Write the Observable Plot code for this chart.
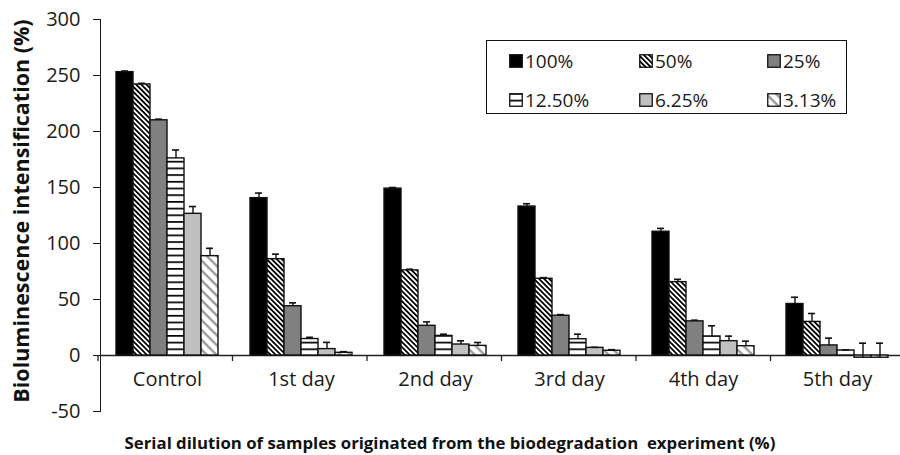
<!DOCTYPE html>
<html>
<head>
<meta charset="utf-8">
<script src="https://cdn.jsdelivr.net/npm/d3@7"></script>
<script src="https://cdn.jsdelivr.net/npm/@observablehq/plot@0.6"></script>
<style>
  body { margin: 0; background: white; }
  #wrap { position: relative; width: 900px; height: 455px; overflow: hidden; font-family: 'Open Sans', sans-serif; }
  #legend { position: absolute; left: 486px; top: 40px; width: 359px; height: 72px; border: 1.5px solid #111; background: white; }
  .item { position: absolute; display: flex; align-items: center; font-size: 19px; color: #1a1a1a; }
  .item svg { margin-right: 2px; }
</style>
</head>
<body>
<div id="wrap"><div id="legend"></div></div>
<script>
const groups = ["Control", "1st day", "2nd day", "3rd day", "4th day", "5th day"];
const dilutions = ["100%", "50%", "25%", "12.50%", "6.25%", "3.13%"];
// mean values per dilution (across groups)
const v100 = [253, 140.5, 149, 133, 110.5, 46];
const v50  = [242, 86, 76, 68.5, 65.5, 30];
const v25  = [210, 44, 26.5, 35.5, 30.5, 9];
const v12  = [176, 14.7, 17.5, 14.5, 17, 4.5];
const v6   = [126.5, 5.7, 9.8, 6.8, 12.8, -2];
const v3   = [88.7, 2.4, 8.6, 4.2, 8.3, -2];
// upper error bars
const e100 = [1, 4.5, 1, 2.5, 3, 6];
const e50  = [1, 4.5, 1, 1, 2.5, 7.5];
const e25  = [1, 3, 3.5, 1, 1, 6.5];
const e12  = [7.5, 1.5, 1.5, 4.5, 9.5, 0.5];
const e6   = [6.5, 6, 3.3, 0.5, 4.5, 13];
const e3   = [7, 1, 3, 1, 4.5, 13];
const yTicks = [-50, 0, 50, 100, 150, 200, 250, 300];

const values = [v100, v50, v25, v12, v6, v3];
const errors = [e100, e50, e25, e12, e6, e3];
const data = groups.flatMap((g, i) => dilutions.map((d, j) => ({
  group: g, dilution: d, value: values[j][i], top: values[j][i] + errors[j][i]
})));

const fills = ["#000000", "url(#p50)", "#808080", "url(#p12)", "#c0c0c0", "url(#p3)"];

const chart = Plot.plot({
  width: 900,
  height: 455,
  marginLeft: 98,
  marginRight: 0,
  marginTop: 19,
  marginBottom: 44,
  style: { fontFamily: "'Open Sans', sans-serif", fontSize: "20px", color: "#1a1a1a", background: "white", overflow: "visible" },
  facet: { data, x: "group" },
  fx: { domain: groups, range: [98, 905], padding: 0, axis: null },
  x: { domain: dilutions, axis: null, paddingInner: 0, paddingOuter: 0.77 },
  y: { domain: [-50, 300], ticks: yTicks, tickFormat: d => String(d), tickSize: 7, tickPadding: 13, line: true, label: null },
  color: { domain: dilutions, range: fills },
  marks: [
    Plot.ruleY([0], { stroke: "#222", strokeWidth: 1.5 }),
    Plot.barY(data, { x: "dilution", y: "value", fill: "dilution", stroke: "#111", strokeWidth: 1.4 }),
    Plot.ruleX(data, { x: "dilution", y1: "value", y2: "top", stroke: "#111", strokeWidth: 1.4 }),
    Plot.tickY(data, { x: "dilution", y: "top", stroke: "#111", strokeWidth: 1.6, insetLeft: 5, insetRight: 5 }),
    Plot.text(data, { filter: d => d.dilution === "100%", text: "group", frameAnchor: "bottom", dy: -26, fill: "#1a1a1a" })
  ]
});

const svg = d3.select(chart);
const defs = svg.insert("defs", ":first-child");
function diag(id, size, stripe, color) {
  const p = defs.append("pattern").attr("id", id).attr("patternUnits", "userSpaceOnUse")
    .attr("width", size).attr("height", size).attr("patternTransform", "rotate(45)");
  p.append("rect").attr("width", size).attr("height", size).attr("fill", "white");
  p.append("rect").attr("width", size).attr("height", stripe).attr("fill", color);
}
diag("p50", 3.6, 1.8, "#000");
diag("p3", 7, 2.4, "#9a9a9a");
const ph = defs.append("pattern").attr("id", "p12").attr("patternUnits", "userSpaceOnUse").attr("width", 8).attr("height", 6.7);
ph.append("rect").attr("width", 8).attr("height", 6.7).attr("fill", "white");
ph.append("rect").attr("width", 8).attr("height", 1.7).attr("fill", "#000");

document.getElementById("wrap").prepend(chart);

// group separator ticks on the zero line, from the fx scale
const fxs = chart.scale("fx");
const band = d3.scaleBand().domain(fxs.domain).range(fxs.range).padding(0);
const ys = chart.scale("y");
const y0 = d3.scaleLinear().domain(ys.domain).range(ys.range)(0);
const edges = fxs.domain.map(g => band(g)).concat([band.range()[1]]);
svg.append("g").selectAll("line").data(edges).join("line")
  .attr("x1", d => d).attr("x2", d => d).attr("y1", y0).attr("y2", y0 + 6)
  .attr("stroke", "#222").attr("stroke-width", 1.3);

// titles
svg.append("text").attr("transform", "translate(23,211) rotate(-90)")
  .attr("text-anchor", "middle").attr("dominant-baseline", "middle")
  .style("font-weight", "bold").style("font-size", "21.5px").attr("fill", "#111")
  .text("Bioluminescence intensification (%)");
svg.append("text").attr("x", 450).attr("y", 449)
  .attr("text-anchor", "middle")
  .style("font-weight", "bold").style("font-size", "16.8px").attr("fill", "#111")
  .text("Serial dilution of samples originated from the biodegradation  experiment (%)");

// legend
const legend = document.getElementById("legend");
const pos = [[22, 7], [152, 7], [280, 7], [22, 46], [152, 46], [280, 46]];
dilutions.forEach((d, i) => {
  const it = document.createElement("div");
  it.className = "item";
  it.style.left = pos[i][0] + "px";
  it.style.top = pos[i][1] + "px";
  const sw = d3.create("svg").attr("width", 14).attr("height", 14);
  sw.append("rect").attr("x", 0.75).attr("y", 0.75).attr("width", 12.5).attr("height", 12.5)
    .attr("fill", fills[i]).attr("stroke", "#111").attr("stroke-width", 1.3);
  it.appendChild(sw.node());
  const t = document.createElement("span");
  t.textContent = d;
  it.appendChild(t);
  legend.appendChild(it);
});
</script>
</body>
</html>
